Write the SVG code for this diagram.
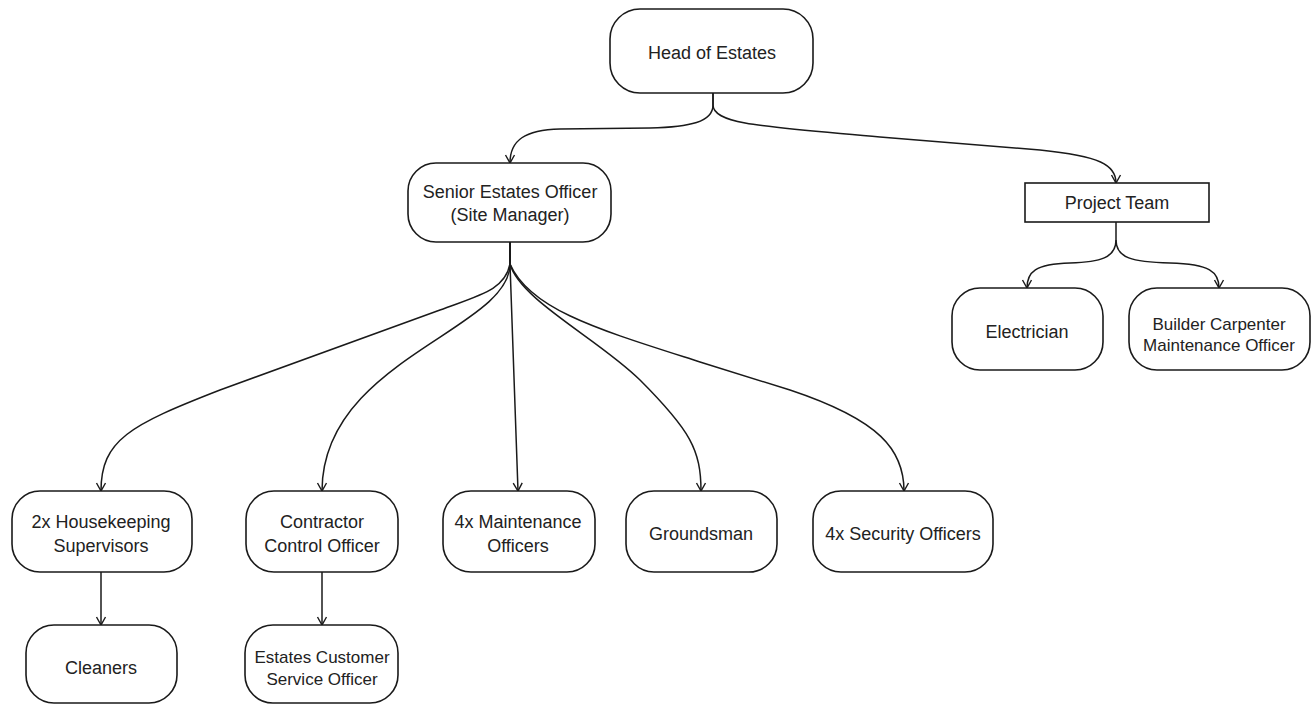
<svg xmlns="http://www.w3.org/2000/svg" width="1314" height="704" viewBox="0 0 1314 704">
<defs>
<marker id="arr" viewBox="-10 -6 12 12" refX="0" refY="0" markerWidth="12" markerHeight="12" markerUnits="userSpaceOnUse" orient="auto">
<path d="M-8,-4.5 L0,0 L-8,4.5" fill="none" stroke="#1a1a1a" stroke-width="1.4" stroke-linejoin="miter"/>
</marker>
</defs>
<style>
.n{fill:#fff;stroke:#1a1a1a;stroke-width:1.6}
.t{font-family:"Liberation Sans",Arial,sans-serif;font-size:18px;fill:#222;text-anchor:middle}
.s{font-size:17px}
.e{fill:none;stroke:#1a1a1a;stroke-width:1.5;marker-end:url(#arr)}
</style>
<rect width="1314" height="704" fill="#fff"/>
<g id="connectors">
<path class="e" d="M713,93 L713,105 C713,122 690,127 650,128 L560,129 C525,130 510,140 510,163"/>
<path class="e" d="M713,93 L713,105 C713,125 770,127 880,137 L1040,150 C1100,156 1116,165 1116,183"/>
<path class="e" d="M1116,222 L1116,240 C1116,258 1100,262 1070,263 C1035,264 1027,272 1027,288"/>
<path class="e" d="M1116,240 C1116,258 1132,262 1170,263 C1210,264 1219,272 1219,288"/>
<path class="e" d="M510,242 L510,264 C505,290 480,295 440,310 L220,390 C130,425 101,440 101,491"/>
<path class="e" d="M510,242 L510,264 C510,330 322,360 322,491"/>
<path class="e" d="M510,242 L510,264 L518,491"/>
<path class="e" d="M510,242 L510,264 C520,300 600,340 640,380 C690,430 701,450 701,491"/>
<path class="e" d="M510,242 L510,264 C530,310 600,330 700,362 L790,390 C880,420 904,450 904,491"/>
<path class="e" d="M101,572 L101,625"/>
<path class="e" d="M322,572 L322,625"/>
</g>
<g id="head">
<rect class="n" x="610" y="9" width="203" height="84" rx="30"/>
<text class="t" x="712" y="59">Head of Estates</text>
</g>
<g id="senior">
<rect class="n" x="408" y="163" width="203" height="79" rx="28"/>
<text class="t" x="510" y="198">Senior Estates Officer</text>
<text class="t" x="510" y="221">(Site Manager)</text>
</g>
<g id="project">
<rect x="1025" y="183" width="184" height="39" fill="#fff" stroke="#1a1a1a" stroke-width="1.6"/>
<text class="t" x="1117" y="209">Project Team</text>
</g>
<g id="electrician">
<rect class="n" x="952" y="288" width="151" height="82" rx="28"/>
<text class="t" x="1027" y="338">Electrician</text>
</g>
<g id="builder">
<rect class="n" x="1129" y="288" width="181" height="82" rx="28"/>
<text class="t s" x="1219" y="330">Builder Carpenter</text>
<text class="t s" x="1219" y="351">Maintenance Officer</text>
</g>
<g id="housekeeping">
<rect class="n" x="12" y="491" width="180" height="81" rx="28"/>
<text class="t" x="101" y="528">2x Housekeeping</text>
<text class="t" x="101" y="552">Supervisors</text>
</g>
<g id="contractor">
<rect class="n" x="246" y="491" width="152" height="81" rx="28"/>
<text class="t" x="322" y="528">Contractor</text>
<text class="t" x="322" y="552">Control Officer</text>
</g>
<g id="maintenance">
<rect class="n" x="443" y="491" width="152" height="81" rx="28"/>
<text class="t" x="518" y="528">4x Maintenance</text>
<text class="t" x="518" y="552">Officers</text>
</g>
<g id="groundsman">
<rect class="n" x="626" y="491" width="151" height="81" rx="28"/>
<text class="t" x="701" y="540">Groundsman</text>
</g>
<g id="security">
<rect class="n" x="813" y="491" width="180" height="81" rx="28"/>
<text class="t" x="903" y="540">4x Security Officers</text>
</g>
<g id="cleaners">
<rect class="n" x="26" y="625" width="151" height="78" rx="28"/>
<text class="t" x="101" y="674">Cleaners</text>
</g>
<g id="customer">
<rect class="n" x="245" y="625" width="153" height="78" rx="28"/>
<text class="t s" x="322" y="663">Estates Customer</text>
<text class="t s" x="322" y="685">Service Officer</text>
</g>
</svg>
